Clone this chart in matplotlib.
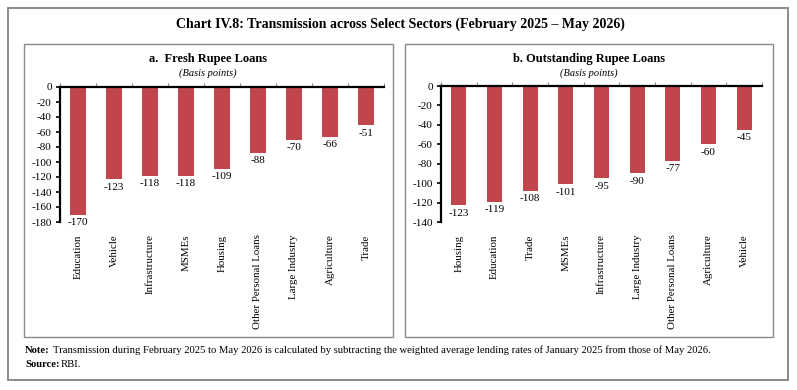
import numpy as np
import matplotlib
matplotlib.use("Agg")
import matplotlib.pyplot as plt
from matplotlib.patches import Rectangle

# ---- data ----
fresh_sectors = ["Education", "Vehicle", "Infrastructure", "MSMEs", "Housing",
                 "Other Personal Loans", "Large Industry", "Agriculture", "Trade"]
fresh_values = [-170, -123, -118, -118, -109, -88, -70, -66, -51]

outstanding_sectors = ["Housing", "Education", "Trade", "MSMEs", "Infrastructure",
                       "Large Industry", "Other Personal Loans", "Agriculture", "Vehicle"]
outstanding_values = [-123, -119, -108, -101, -95, -90, -77, -60, -45]

fresh_yticks = np.arange(-180, 1, 20)
outstanding_yticks = np.arange(-140, 1, 20)

BAR_COLOR = "#C0464B"
FONT = "Liberation Serif"
W, H = 797, 390

plt.rcParams["font.family"] = FONT


def fx(px):
    return px / W


def fy(py):
    return 1 - py / H


def draw_panel(fig, rect, sectors, values, yticks, ylim):
    ax = fig.add_axes(rect)
    x = np.arange(len(sectors))
    ax.bar(x, values, width=0.42, color=BAR_COLOR, zorder=2)
    ax.set_xlim(-0.5, len(sectors) - 0.5)
    ax.set_ylim(ylim, 0)
    ax.set_yticks(yticks)
    ax.set_yticklabels([str(v) for v in yticks], fontsize=8)
    ax.tick_params(axis="y", direction="out", length=3, width=1.2, pad=3)
    ax.set_xticks(x)
    ax.set_xticklabels(sectors, rotation=90, fontsize=7.8, va="top", ha="center")
    ax.tick_params(axis="x", which="major", length=0, pad=9)
    ax.set_xticks(np.arange(len(sectors) + 1) - 0.5, minor=True)
    ax.tick_params(axis="x", which="minor", top=True, bottom=False,
                   direction="out", length=3, width=0.8, color="#888888")
    for side in ["right", "bottom"]:
        ax.spines[side].set_visible(False)
    for side in ["left", "top"]:
        ax.spines[side].set_linewidth(1.6)
        ax.spines[side].set_color("black")
    for xi, v in zip(x, values):
        ax.annotate(str(v), (xi, v), xytext=(0, -2.5), textcoords="offset points",
                    ha="center", va="top", fontsize=8)
    return ax


fig = plt.figure(figsize=(W / 100, H / 100), dpi=100)

# outer frame
fig.patches.append(Rectangle((fx(8), fy(380)), fx(788 - 8), (380 - 8) / H,
                             transform=fig.transFigure, fill=False,
                             edgecolor="#8a8a8a", linewidth=1.4))
# panel frames
for left, right in [(24, 393), (405, 773)]:
    fig.patches.append(Rectangle((fx(left), fy(337)), fx(right - left), (337 - 44) / H,
                                 transform=fig.transFigure, fill=False,
                                 edgecolor="#8a8a8a", linewidth=1.0))

fig.text(fx(400), fy(24), "Chart IV.8: Transmission across Select Sectors (February 2025 \u2013 May 2026)",
         ha="center", va="center", fontsize=10, fontweight="bold")

# panel a
draw_panel(fig, [fx(60), fy(222), fx(384 - 60), (222 - 87) / H],
           fresh_sectors, fresh_values, fresh_yticks, -180)
fig.text(fx(208), fy(59), "a.  Fresh Rupee Loans", ha="center", va="center",
         fontsize=9, fontweight="bold")
fig.text(fx(208), fy(73), "(Basis points)", ha="center", va="center",
         fontsize=7.5, style="italic")

# panel b
draw_panel(fig, [fx(441), fy(222), fx(762 - 441), (222 - 86) / H],
           outstanding_sectors, outstanding_values, outstanding_yticks, -140)
fig.text(fx(589), fy(59), "b. Outstanding Rupee Loans", ha="center", va="center",
         fontsize=9, fontweight="bold")
fig.text(fx(589), fy(73), "(Basis points)", ha="center", va="center",
         fontsize=7.5, style="italic")

# notes
fig.text(fx(25), fy(353), "Note:", ha="left", va="baseline", fontsize=7.7,
         fontweight="bold")
fig.text(fx(53), fy(353),
         "Transmission during February 2025 to May 2026 is calculated by subtracting the "
         "weighted average lending rates of January 2025 from those of May 2026.",
         ha="left", va="baseline", fontsize=7.7)
fig.text(fx(25), fy(367), "Source:", ha="left", va="baseline", fontsize=7.7,
         fontweight="bold")
fig.text(fx(61), fy(367), "RBI.", ha="left", va="baseline", fontsize=7.7)

fig.savefig("out.png", dpi=100)
